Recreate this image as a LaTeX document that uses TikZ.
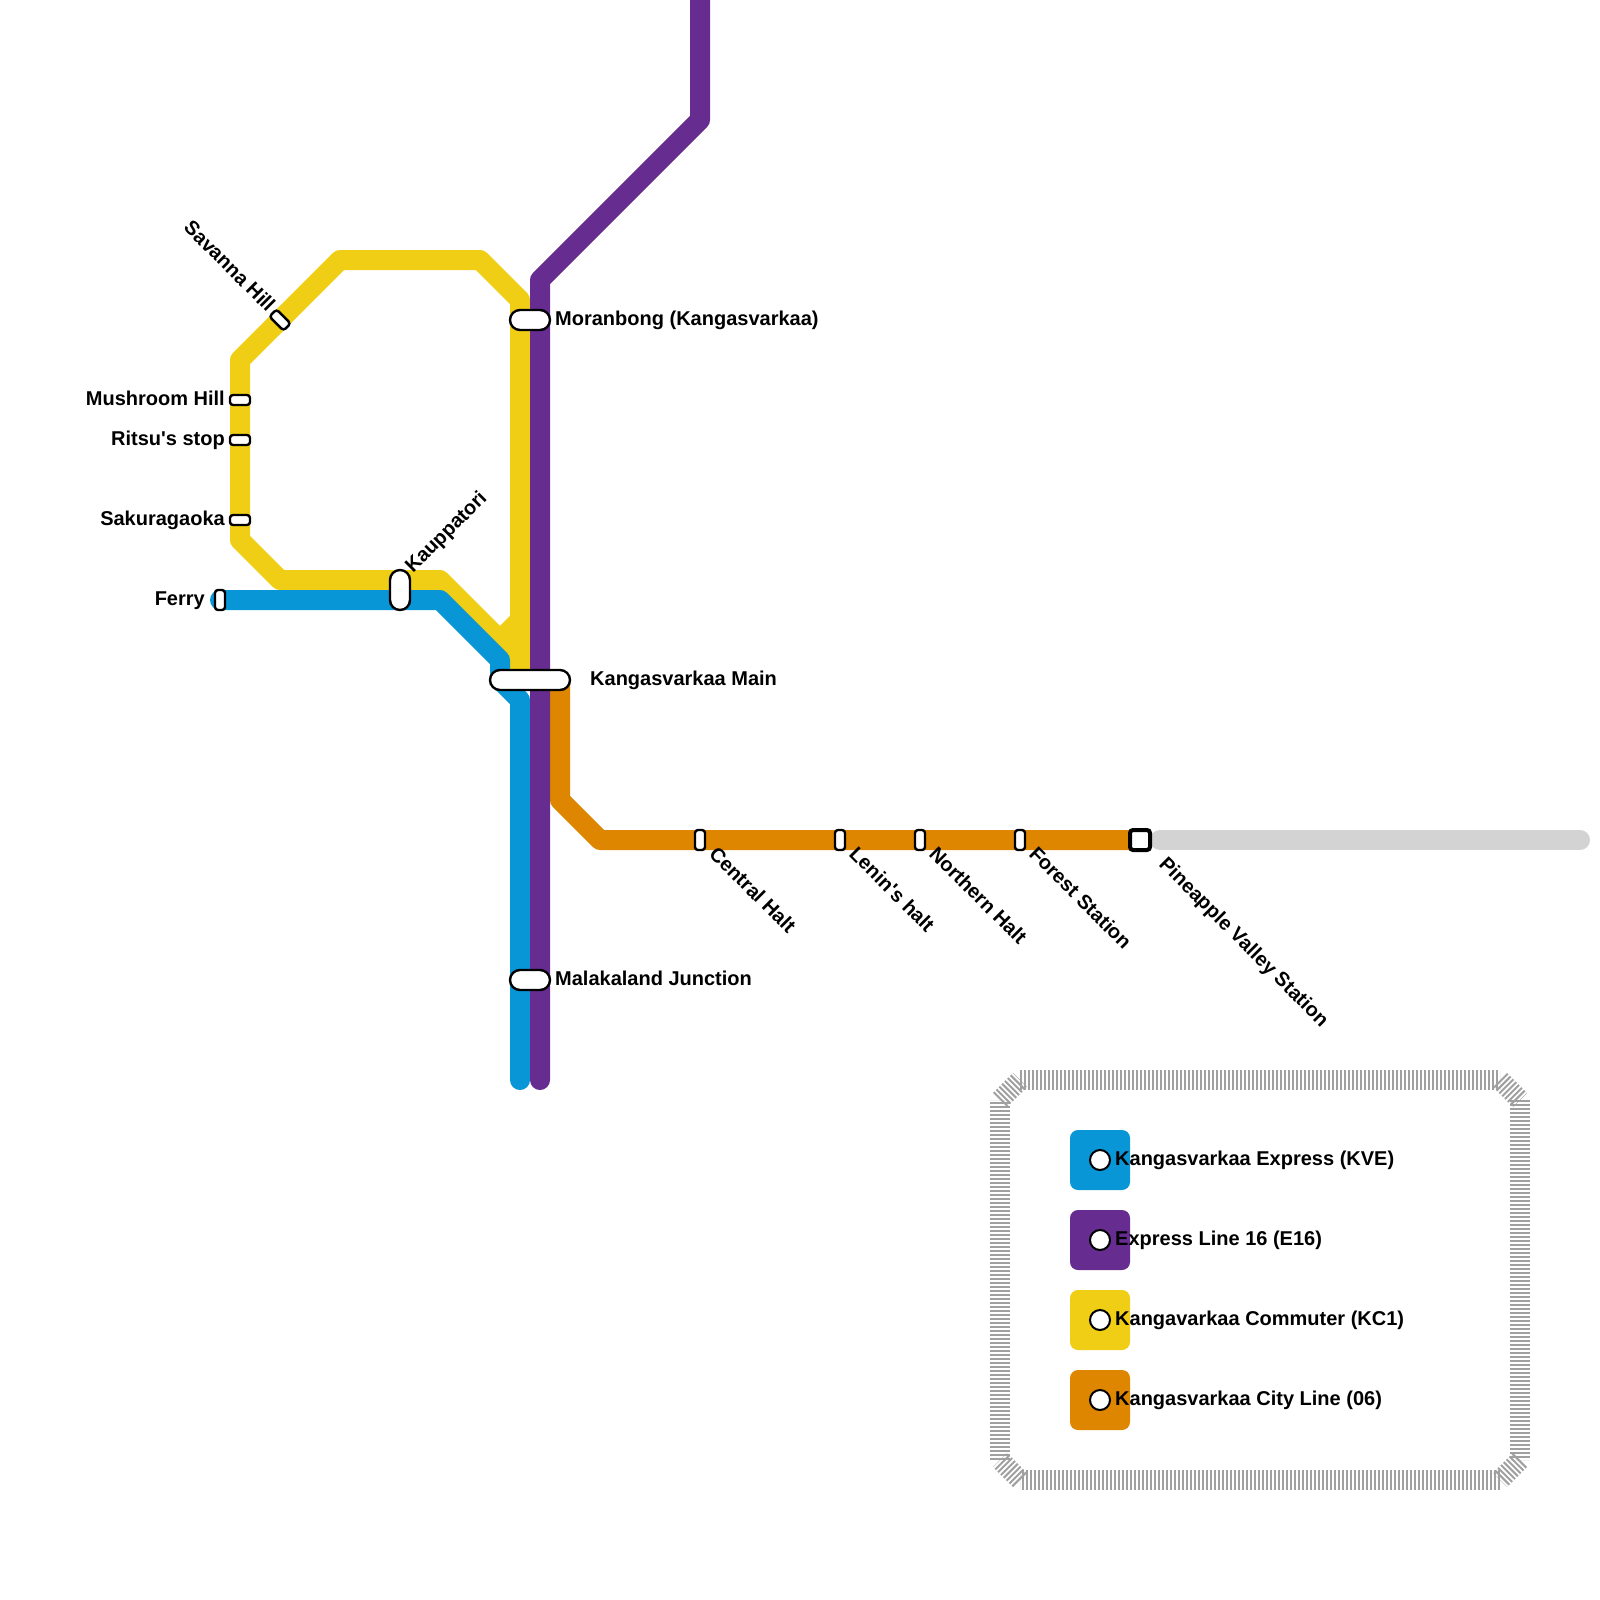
\documentclass[tikz,border=0pt]{standalone}
\usepackage{fontspec}
\setmainfont{Liberation Sans}[Ligatures=TeXOff]
\definecolor{kvblue}{HTML}{0896D7}
\definecolor{kvpurple}{HTML}{662C90}
\definecolor{kvyellow}{HTML}{F0CE15}
\definecolor{kvorange}{HTML}{DF8600}
\definecolor{kvgrey}{HTML}{D3D3D3}
\definecolor{kvhatch}{HTML}{A0A0A0}
\tikzset{
  track/.style={line width=20pt, line cap=round, line join=round},
  halt/.style={draw=black, fill=white, line width=2.4pt, rectangle, rounded corners=3pt, inner sep=0pt, minimum width=20pt, minimum height=10pt},
  bighalt/.style={halt, rounded corners=10pt, minimum width=40pt, minimum height=20pt},
  label/.style={font=\fontsize{20}{22}\selectfont\bfseries, inner sep=0pt, text=black},
  hatch/.style={kvhatch, line width=20pt, dash pattern=on 2pt off 2pt},
  swatch/.style={rounded corners=8pt},
}
\begin{document}
\begin{tikzpicture}[x=1pt,y=-1pt]
    \useasboundingbox (0,0) rectangle (1600,1600);
    % lines
    \draw[track, kvgrey] (1160,840) -- (1580,840);
    \draw[track, kvorange] (560,680) -- (560,800) -- (600,840) -- (1140,840);
    \draw[track, kvyellow] (520,680) -- (520,300) -- (480,260) -- (340,260) -- (240,360) -- (240,540) -- (280,580) -- (440,580) -- (500,640) -- (500,680);
    \draw[track, kvyellow] (520,620) -- (500,640);
    \draw[track, kvblue] (220,600) -- (440,600) -- (500,660) -- (500,680) -- (520,700) -- (520,1080);
    \draw[track, kvpurple] (540,1080) -- (540,280) -- (700,120) -- (700,-20);
    % stations
    \node[bighalt] (moranbong) at (530,320) {};
    \node[bighalt, minimum width=80pt] (kangasmain) at (530,680) {};
    \node[bighalt] (malakaland) at (530,980) {};
    \node[halt] (mushroom) at (240,400) {};
    \node[halt] (ritsu) at (240,440) {};
    \node[halt] (sakura) at (240,520) {};
    \node[halt, rotate=-45] (savanna) at (280,320) {};
    \node[halt, minimum width=10pt, minimum height=20pt] (ferry) at (220,600) {};
    \node[bighalt, minimum width=20pt, minimum height=40pt] (kauppa) at (400,590) {};
    \foreach \name/\x in {central/700, lenin/840, northern/920, forest/1020}
        \node[halt, minimum width=10pt, minimum height=20pt] (\name) at (\x,840) {};
    \node[halt, line width=4pt, rounded corners=3pt, minimum width=20pt, minimum height=20pt] (pineapple) at (1140,840) {};
    % station names
    \node[label, anchor=base west] (moranbongname) at (555,325) {Moranbong (Kangasvarkaa)};
    \node[label, anchor=base west] (kangasmainname) at (590,685) {Kangasvarkaa Main};
    \node[label, anchor=base west] (malakalandname) at (555,985) {Malakaland Junction};
    \node[label, anchor=base east] (mushroomname) at (225,405) {Mushroom Hill};
    \node[label, anchor=base east] (ritsuname) at (225,445) {Ritsu's stop};
    \node[label, anchor=base east] (sakuraname) at (225,525) {Sakuragaoka};
    \node[label, anchor=base east] (ferryname) at (205,605) {Ferry};
    \node[label, anchor=base east, rotate=-45] (savannaname) at (267,313) {Savanna Hill};
    \node[label, anchor=base west, rotate=45] (kauppaname) at (413,574) {Kauppatori};
    \node[label, anchor=base west, rotate=-45] (centralname) at (708,855) {Central Halt};
    \node[label, anchor=base west, rotate=-45] (leninname) at (848,855) {Lenin's halt};
    \node[label, anchor=base west, rotate=-45] (northernname) at (928,855) {Northern Halt};
    \node[label, anchor=base west, rotate=-45] (forestname) at (1028,855) {Forest Station};
    \node[label, anchor=base west, rotate=-45] (pineapplename) at (1158,865) {Pineapple Valley Station};
    % legend frame
    \draw[hatch] (1020,1080) -- (1500,1080);
    \draw[hatch] (1500,1080) -- (1520,1100);
    \draw[hatch] (1520,1100) -- (1520,1460);
    \draw[hatch] (1520,1460) -- (1500,1480);
    \draw[hatch] (1500,1480) -- (1020,1480);
    \draw[hatch] (1020,1480) -- (1000,1460);
    \draw[hatch] (1000,1460) -- (1000,1100);
    \draw[hatch] (1000,1100) -- (1020,1080);
    % legend
    \foreach \col/\y/\txt in {kvblue/1160/Kangasvarkaa Express (KVE), kvpurple/1240/Express Line 16 (E16), kvyellow/1320/Kangavarkaa Commuter (KC1), kvorange/1400/Kangasvarkaa City Line (06)} {
        \fill[swatch, \col] (1070,\y-30) rectangle (1130,\y+30);
        \draw[fill=white, line width=2pt] (1100,\y) circle (10pt);
        \node[label, anchor=base west] at (1115,\y+5) {\txt};
    }
\end{tikzpicture}
\end{document}
